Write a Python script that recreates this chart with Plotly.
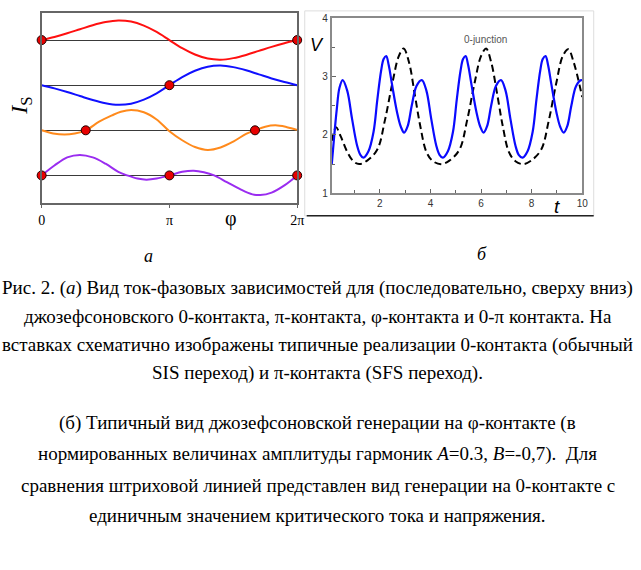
import plotly.graph_objects as go

W, H = 641, 570
SERIF = "Times New Roman, Liberation Serif, serif"
SANS = "Arial, Liberation Sans, sans-serif"

# ---------------- panel (a): current-phase relations (phase in units of pi) ----------------
baselines = [3, 2, 1, 0]

phi_red = [0, 0.1, 0.2, 0.3, 0.4, 0.5, 0.6, 0.7, 0.8, 0.9, 1.0, 1.1, 1.2, 1.3, 1.4, 1.5, 1.6, 1.7, 1.8, 1.9, 2.0]
is_red = [0, 0.07, 0.15, 0.24, 0.33, 0.40, 0.435, 0.41, 0.32, 0.18, 0.0, -0.18, -0.32, -0.41, -0.435, -0.40, -0.33, -0.24, -0.15, -0.07, 0]

phi_blue = [0, 0.1, 0.2, 0.3, 0.4, 0.5, 0.6, 0.7, 0.8, 0.9, 1.0, 1.1, 1.2, 1.3, 1.4, 1.5, 1.6, 1.7, 1.8, 1.9, 2.0]
is_blue = [0, -0.07, -0.15, -0.24, -0.33, -0.40, -0.435, -0.41, -0.32, -0.18, 0.0, 0.18, 0.32, 0.41, 0.435, 0.40, 0.33, 0.24, 0.15, 0.07, 0]

phi_orange = [0, 0.09, 0.18, 0.26, 0.345, 0.45, 0.55, 0.62, 0.7, 0.8, 0.9, 1.0, 1.1, 1.2, 1.3, 1.4, 1.5, 1.6, 1.67, 1.75, 1.83, 1.92, 2.0]
is_orange = [0, -0.07, -0.095, -0.07, 0, 0.19, 0.33, 0.41, 0.45, 0.40, 0.24, -0.02, -0.22, -0.37, -0.435, -0.38, -0.25, -0.08, 0, 0.08, 0.11, 0.07, 0.01]

phi_purple = [0, 0.1, 0.2, 0.3, 0.4, 0.5, 0.6, 0.67, 0.75, 0.82, 0.9, 1.0, 1.1, 1.19, 1.27, 1.35, 1.45, 1.55, 1.65, 1.71, 1.8, 1.9, 2.0]
is_purple = [0, 0.22, 0.40, 0.455, 0.40, 0.26, 0.08, 0, -0.07, -0.095, -0.07, 0, 0.08, 0.105, 0.07, 0, -0.15, -0.30, -0.42, -0.435, -0.38, -0.22, 0]

# zero-current points (red dots): (phase/pi, curve index)
dot_phi = [0, 2, 1, 0.345, 1.67, 0, 1, 2]
dot_curve = [0, 0, 1, 2, 2, 3, 3, 3]

phase_ticks = [0, 1, 2]
phase_labels = ["0", "π", "2π"]

# ---------------- panel (б): voltage vs time ----------------
t_phi = [0.1, 0.2, 0.3, 0.4, 0.53, 0.71, 0.90, 1.10, 1.23,
         1.35, 1.55, 1.75, 1.90, 2.05, 2.15, 2.25, 2.35, 2.48, 2.68, 2.83, 2.96, 3.10, 3.26, 3.45, 3.66, 3.84, 4.03, 4.23, 4.36,
         4.49, 4.69, 4.89, 5.04, 5.19, 5.29, 5.39, 5.49, 5.62, 5.82, 5.97, 6.10, 6.24, 6.40, 6.59, 6.79, 6.97, 7.16, 7.36, 7.49,
         7.64, 7.84, 8.04, 8.19, 8.34, 8.44, 8.55, 8.65, 8.78, 8.98, 9.13, 9.27, 9.41, 9.57, 9.76, 9.96, 10.0]
v_phi = [1.5, 2.0, 2.45, 2.8, 2.94, 2.76, 2.28, 1.82, 1.66,
         1.61, 1.72, 2.05, 2.6, 3.1, 3.3, 3.35, 3.2, 2.87, 2.39, 2.14, 2.04, 2.15, 2.5, 2.84, 2.94, 2.76, 2.28, 1.82, 1.66,
         1.61, 1.72, 2.05, 2.6, 3.1, 3.3, 3.35, 3.2, 2.87, 2.39, 2.14, 2.04, 2.15, 2.5, 2.84, 2.94, 2.76, 2.28, 1.82, 1.66,
         1.61, 1.72, 2.05, 2.6, 3.1, 3.3, 3.35, 3.2, 2.87, 2.39, 2.14, 2.04, 2.15, 2.5, 2.84, 2.94, 2.93]

t_zero = [0.1, 0.27, 0.45, 0.7, 0.95, 1.18, 1.5, 1.9, 2.2, 2.5, 2.75, 2.94, 3.15, 3.39, 3.6, 3.84, 4.1,
          4.43, 4.75, 5.15, 5.45, 5.75, 6.0, 6.2, 6.4, 6.65, 6.86, 7.1, 7.36,
          7.66, 7.98, 8.38, 8.68, 8.98, 9.23, 9.45, 9.66, 10.0]
v_zero = [1.9, 2.13, 1.98, 1.72, 1.55, 1.50, 1.56, 1.75, 2.25, 2.9, 3.35, 3.48, 3.25, 2.67, 2.15, 1.71, 1.55,
          1.50, 1.56, 1.75, 2.25, 2.9, 3.35, 3.48, 3.25, 2.67, 2.15, 1.71, 1.55,
          1.50, 1.56, 1.75, 2.25, 2.9, 3.35, 3.47, 3.25, 2.65]

t_ticks = [2, 4, 6, 8, 10]
t_minor = [1, 3, 5, 7, 9]
v_ticks = [1, 2, 3, 4]
v_minor = [1.5, 2.5, 3.5]

caption_lines = [
    "Рис. 2. (<i>а</i>) Вид ток-фазовых зависимостей для (последовательно, сверху вниз)",
    "джозефсоновского 0-контакта, π-контакта, φ-контакта и 0-π контакта. На",
    "вставках схематично изображены типичные реализации 0-контакта (обычный",
    "SIS переход) и π-контакта (SFS переход).",
    "(б) Типичный вид джозефсоновской генерации на φ-контакте (в",
    "нормированных величинах амплитуды гармоник <i>A</i>=0.3, <i>B</i>=-0,7).  Для",
    "сравнения штриховой линией представлен вид генерации на 0-контакте с",
    "единичным значением критического тока и напряжения.",
]
caption_y = [289, 318, 347, 375, 426, 458, 490, 521]


def px(x):
    return x / W


def py(y):
    return 1 - y / H


fig = go.Figure()

curves = [
    (phi_red, is_red, "#ff1010"),
    (phi_blue, is_blue, "#1010ff"),
    (phi_orange, is_orange, "#ff8a1c"),
    (phi_purple, is_purple, "#9a2cf0"),
]
for (xs, ys, col), b in zip(curves, baselines):
    fig.add_trace(go.Scatter(x=xs, y=[b + v for v in ys], mode="lines",
                             line=dict(color=col, width=2, shape="spline", smoothing=1.0),
                             xaxis="x", yaxis="y", hoverinfo="skip"))

# dots on the zero-crossings
dot_y = []
for ph, ci in zip(dot_phi, dot_curve):
    xs, ys, _ = curves[ci]
    val = ys[xs.index(ph)] if ph in xs else 0
    dot_y.append(baselines[ci] + val)
fig.add_trace(go.Scatter(x=dot_phi, y=dot_y, mode="markers", cliponaxis=False,
                         marker=dict(size=9, color="#e80000", line=dict(color="#200000", width=1)),
                         xaxis="x", yaxis="y", hoverinfo="skip"))

fig.add_trace(go.Scatter(x=t_zero, y=v_zero, mode="lines",
                         line=dict(color="black", width=2, dash="7px,4px", shape="spline", smoothing=1.0),
                         xaxis="x2", yaxis="y2", hoverinfo="skip"))
fig.add_trace(go.Scatter(x=t_phi, y=v_phi, mode="lines",
                         line=dict(color="#0a0aff", width=2.2, shape="spline", smoothing=1.0),
                         xaxis="x2", yaxis="y2", hoverinfo="skip"))


def label(x, y, text, family, size, color="black", angle=0):
    return dict(x=px(x), y=py(y), xref="paper", yref="paper", text=text, textangle=angle,
                xanchor="center", yanchor="middle", showarrow=False,
                font=dict(family=family, size=size, color=color))


ann = [
    label(17, 103, "<i>I</i><sub>S</sub>", SERIF, 24, angle=-90),
    label(231, 218, "φ", SERIF, 20),
    label(147, 256, "<i>а</i>", SERIF, 18),
    label(486, 254, "<i>б</i>", SERIF, 18),
    label(318, 41, "<i>V</i>", SANS, 18),
    label(563, 205, "<i>t</i>", SANS, 19),
    label(490, 35, "0-junction", SANS, 10, color="#555555"),
]
for txt, yy in zip(caption_lines, caption_y):
    ann.append(label(319, yy, txt, SERIF, 19))

shapes = [
    dict(type="rect", xref="paper", yref="paper", x0=px(306), x1=px(600), y0=py(215), y1=py(6),
         line=dict(color="#dddddd", width=1)),
    dict(type="line", xref="paper", yref="paper", x0=px(308), x1=px(600), y0=py(215), y1=py(215),
         line=dict(color="#222222", width=1.5)),
]

fig.update_layout(
    width=W, height=H, margin=dict(l=0, r=0, t=0, b=0),
    paper_bgcolor="white", plot_bgcolor="white", showlegend=False,
    annotations=ann, shapes=shapes,
    xaxis=dict(domain=[px(38.3), px(298.3)], range=[0, 2], tickvals=phase_ticks, ticktext=phase_labels,
               showline=True, mirror=True, linecolor="#666666", linewidth=1.5,
               ticks="outside", ticklen=3, tickcolor="#666666", showgrid=False, zeroline=False,
               tickfont=dict(family=SERIF, size=14, color="black"), anchor="y", fixedrange=True),
    yaxis=dict(domain=[py(202.3), py(7.7)], range=[-0.62, 3.61], tickvals=baselines,
               showticklabels=False, showgrid=True, gridcolor="#3a3a3a", gridwidth=1.4,
               showline=True, mirror=True, linecolor="#666666", linewidth=1.5, zeroline=False,
               ticks="", anchor="x", fixedrange=True),
    xaxis2=dict(domain=[px(333.5), px(588.3)], range=[0.1, 10], tickvals=t_ticks,
                showline=True, mirror=True, linecolor="#8a8a8a", linewidth=2,
                ticks="inside", ticklen=4, tickcolor="#666666", showgrid=False, zeroline=False,
                minor=dict(tickvals=t_minor, ticks="inside", ticklen=3, tickcolor="#666666"),
                tickfont=dict(family=SANS, size=10, color="#333333"), anchor="y2", fixedrange=True),
    yaxis2=dict(domain=[py(192), py(13.5)], range=[1, 4], tickvals=v_ticks,
                showline=True, mirror=True, linecolor="#8a8a8a", linewidth=2,
                ticks="inside", ticklen=4, tickcolor="#666666", showgrid=False, zeroline=False,
                minor=dict(tickvals=v_minor, ticks="inside", ticklen=3, tickcolor="#666666"),
                tickfont=dict(family=SANS, size=10, color="#333333"), anchor="x2", fixedrange=True),
)

fig.write_html("out.html")
